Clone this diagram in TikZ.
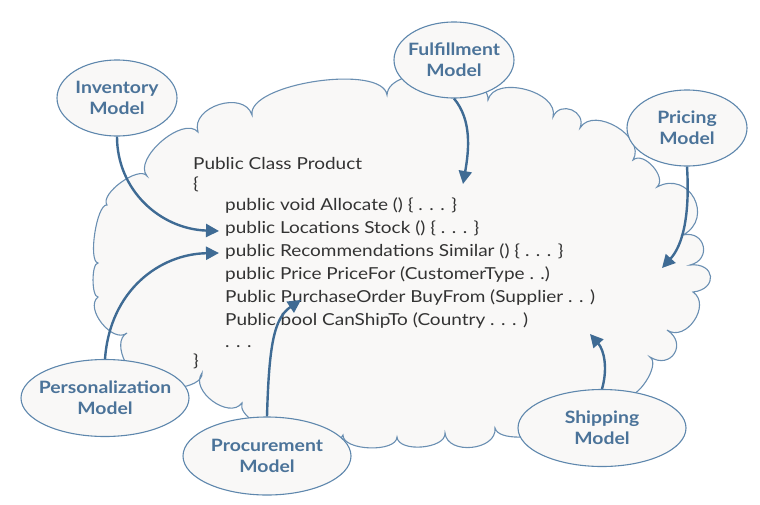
\documentclass[tikz,border=0pt]{standalone}
\usepackage{fontspec}
\setmainfont{Lato}
\newfontfamily\codefont[FakeStretch=1.15]{Lato}
\newfontfamily\labelfont[FakeStretch=1.14]{Lato}
\usetikzlibrary{arrows.meta,shapes.geometric}
\definecolor{cloudline}{HTML}{6A8FB2}
\definecolor{cloudfill}{HTML}{F9F8F7}
\definecolor{ellline}{HTML}{5E87AD}
\definecolor{elltext}{HTML}{4B7399}
\definecolor{arrowcol}{HTML}{3F6B94}
\definecolor{codetext}{HTML}{333333}
\tikzset{
  lobe/.style={bend left=90, looseness=#1},
  model/.style={ellipse, draw=ellline, line width=1.1pt, fill=cloudfill, inner xsep=-20pt, inner ysep=0pt,
    text=elltext, font=\labelfont\fontsize{17}{21}\selectfont\bfseries, align=center},
  code/.style={anchor=base west, inner sep=0pt, text=codetext, font=\codefont\fontsize{16.5}{18}\selectfont},
  link/.style={draw=arrowcol, line width=2.4pt, -{Triangle[length=13pt,width=13pt]}}
}
\begin{document}
\begin{tikzpicture}[x=1pt, y=-1pt]
\useasboundingbox (0,0) rectangle (760,504);
% cloud
\draw[cloudline, line width=1.1pt, fill=cloudfill]
  (150,378) to[lobe=1.0] (127,333)
  to[lobe=1.0] (98,297)
  to[lobe=0.5] (98,263)
  to[lobe=0.45] (107,205)
  to[lobe=0.7] (147,176)
  to[lobe=0.85] (198,132)
  to[lobe=1.2] (252,115)
  to[lobe=0.6] (387,95)
  to[lobe=0.8] (488,100)
  to[lobe=1.0] (553,117)
  to[lobe=1.6] (580,128)
  to[lobe=1.1] (633,160)
  to[lobe=1.0] (657,187)
  to[lobe=1.7] (683,235)
  to[lobe=1.9] (690,265)
  to[lobe=2.4] (693,292)
  to[lobe=1.27] (667,330)
  to[lobe=2.0] (650,357)
  to[lobe=0.75] (625,395)
  to[lobe=0.5] (495,428)
  to[lobe=1.15] (445,433)
  to[lobe=0.85] (397,437)
  to[lobe=0.75] (343,435)
  to[lobe=0.6] (242,403)
  to[lobe=1.1] (202,373)
  to[lobe=0.8] cycle;
% code
\node[code] (l1) at (193,169) {Public Class Product};
\node[code] (l2) at (193,189) {\{};
\node[code] (l3) at (225,210) {public void Allocate () \{ . . . \}};
\node[code] (l4) at (225,233) {public Locations Stock () \{ . . . \}};
\node[code] (l5) at (225,256) {public Recommendations Similar () \{ . . . \}};
\node[code] (l6) at (225,279) {public Price PriceFor (CustomerType . .)};
\node[code] (l7) at (225,302) {Public PurchaseOrder BuyFrom (Supplier . . )};
\node[code] (l8) at (225,325) {Public bool CanShipTo (Country . . . )};
\node[code] (l9) at (225,347) {. . .};
\node[code] (l10) at (193,366) {\}};
% arrow tips
\coordinate (tinv) at (219,231);
\coordinate (tpers) at (219,253);
\coordinate (tproc) at (301,300);
\coordinate (tful) at (463,184);
\coordinate (tpri) at (662,268);
\coordinate (tship) at (590,334);
% ellipses
\node[model, minimum width=120pt, minimum height=76pt] (inv) at (117,98) {Inventory\\Model};
\node[model, minimum width=120pt, minimum height=76pt] (ful) at (454,60) {Fulfillment\\Model};
\node[model, minimum width=120pt, minimum height=76pt] (pri) at (687,128) {Pricing\\Model};
\node[model, minimum width=168pt, minimum height=77pt] (pers) at (105,398) {Personalization\\Model};
\node[model, minimum width=168pt, minimum height=78pt] (proc) at (267,456) {Procurement\\Model};
\node[model, minimum width=168pt, minimum height=77pt] (ship) at (602,428) {Shipping\\Model};
% arrows
\draw[link] (inv.south) .. controls (117,190) and (160,229) .. (tinv);
\draw[link] (pers.north) .. controls (110,290) and (160,254) .. (tpers);
\draw[link] (proc.north) .. controls (269,345) and (274,318) .. (tproc);
\draw[link] (ful.south) .. controls (472,120) and (469,150) .. (tful);
\draw[link] (pri.south) .. controls (690,215) and (683,245) .. (tpri);
\draw[link] (ship.north) .. controls (608,368) and (604,350) .. (tship);
\end{tikzpicture}
\end{document}
